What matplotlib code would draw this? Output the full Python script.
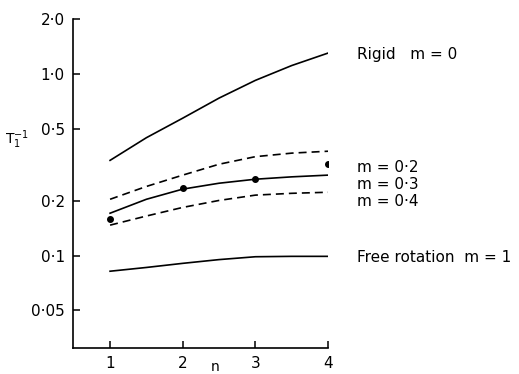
import matplotlib
matplotlib.use("Agg")
import matplotlib.pyplot as plt

# values (log y axis)
n = [1, 1.5, 2, 2.5, 3, 3.5, 4]
rigid = [0.334, 0.445, 0.57, 0.735, 0.92, 1.11, 1.30]
m02 = [0.204, 0.24, 0.277, 0.318, 0.350, 0.366, 0.375]
m03 = [0.171, 0.204, 0.232, 0.250, 0.263, 0.271, 0.277]
m04 = [0.147, 0.165, 0.184, 0.201, 0.215, 0.220, 0.223]
free_rot = [0.082, 0.086, 0.0906, 0.095, 0.0985, 0.099, 0.099]

n_pts = [1, 2, 3, 4]
measured = [0.159, 0.235, 0.263, 0.318]

yticks = [0.05, 0.1, 0.2, 0.5, 1.0, 2.0]
ytick_labels = ["0·05", "0·1", "0·2", "0·5", "1·0", "2·0"]
xticks = [1, 2, 3, 4]

curve_labels = ["Rigid   m = 0", "m = 0·2", "m = 0·3", "m = 0·4", "Free rotation  m = 1"]
label_y = [1.27, 0.306, 0.247, 0.199, 0.0977]

plt.rcParams["font.family"] = "DejaVu Sans"

fig = plt.figure(figsize=(5.19, 3.74), dpi=100)
ax = fig.add_axes([0.1407, 0.0695, 0.632 - 0.1407, 0.949 - 0.0695])

lw = 1.2
dash = (4.8, 3.0)
ax.plot(n, rigid, color="black", lw=lw)
ax.plot(n, m02, color="black", lw=lw, dashes=dash)
ax.plot(n, m03, color="black", lw=lw)
ax.plot(n, m04, color="black", lw=lw, dashes=dash)
ax.plot(n, free_rot, color="black", lw=lw)
ax.plot(n_pts, measured, "o", color="black", markersize=4)

ax.set_yscale("log")
ax.set_ylim(0.031, 2.0)
ax.set_xlim(0.49, 4.0)
ax.set_yticks(yticks)
ax.set_yticklabels(ytick_labels)
ax.set_xticks(xticks)
ax.set_xticklabels([str(t) for t in xticks])
ax.minorticks_off()
ax.tick_params(direction="in", length=5, width=1.1, labelsize=11, pad=6)

for side in ["top", "right"]:
    ax.spines[side].set_visible(False)
for side in ["left", "bottom"]:
    ax.spines[side].set_linewidth(1.2)

for text, y in zip(curve_labels, label_y):
    ax.text(4.4, y, text, fontsize=11, va="center", ha="left", clip_on=False)

fig.text(17 / 519, 1 - 140 / 374, r"$\mathregular{T_1^{-1}}$", fontsize=10, ha="center", va="center")
fig.text(215 / 519, 1 - 367 / 374, "n", fontsize=10, ha="center", va="center")

fig.savefig("out.png", dpi=100)
